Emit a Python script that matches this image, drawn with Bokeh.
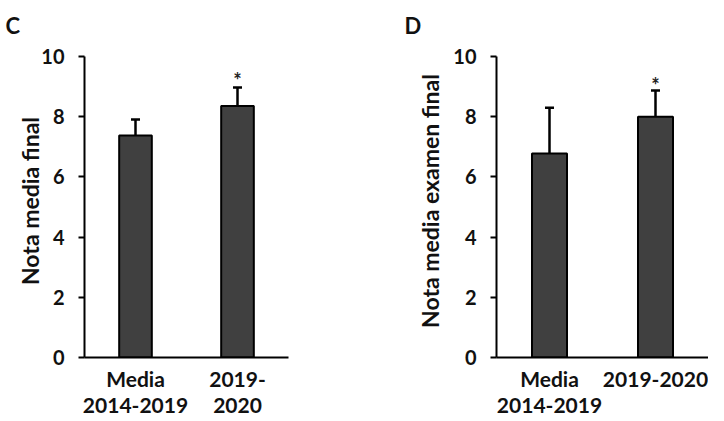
from bokeh.plotting import figure
from bokeh.layouts import row
from bokeh.models import (Range1d, FixedTicker, ColumnDataSource, Whisker, TeeHead)
from bokeh.core.properties import value
from bokeh.embed import file_html
from bokeh.resources import INLINE

# ---- data ----
groups_c = ["Media\n2014-2019", "2019-\n2020"]
means_c = [7.38, 8.36]
err_lo_c = [6.79, 7.75]
err_hi_c = [7.91, 8.97]
star_c = [None, 9.62]

groups_d = ["Media\n2014-2019", "2019-2020"]
means_d = [6.78, 8.0]
err_lo_d = [5.25, 7.11]
err_hi_d = [8.30, 8.87]
star_d = [None, 9.45]

yticks = [0, 2, 4, 6, 8, 10]
positions = [0.5, 1.5]

FONT = "Lato"
BAR = "#404040"
INK = "#111111"
H = 420


def panel(letter, ylabel, groups, means, lo, hi, stars, width, left, frame_w, bar_w,
          label_standoff, letter_dx):
    p = figure(width=width, height=H, output_backend="svg", toolbar_location=None,
               x_range=Range1d(0, 2), y_range=Range1d(0, 10.4),
               min_border_left=left, min_border_top=44, min_border_bottom=H - 357,
               min_border_right=width - left - frame_w)
    p.title.text = letter
    p.title.align = "left"
    p.title.offset = letter_dx
    p.title.text_font = FONT
    p.title.text_font_style = "bold"
    p.title.text_font_size = "22px"
    p.title.text_color = INK
    p.title.standoff = 12
    p.outline_line_color = None
    p.grid.visible = False
    p.background_fill_color = "white"
    p.border_fill_color = "white"

    src = ColumnDataSource(dict(x=positions, top=means, lo=lo, hi=hi))
    p.vbar(x="x", top="top", width=bar_w, bottom=0, source=src,
           fill_color=BAR, line_color="black", line_width=2)
    w = Whisker(base="x", lower="lo", upper="hi", source=src,
                line_color="black", line_width=2.5,
                upper_head=TeeHead(size=9, line_width=2.5, line_color="black"),
                lower_head=TeeHead(size=9, line_width=2.5, line_color="black"))
    p.add_layout(w)

    sx = [x for x, s in zip(positions, stars) if s is not None]
    sy = [s for s in stars if s is not None]
    p.text(x=sx, y=sy, text=["*"] * len(sx), text_font=value(FONT),
           text_font_size="20px", text_font_style="bold", text_color="#222222",
           text_align="center", text_baseline="top")

    # axes
    p.yaxis.ticker = FixedTicker(ticks=yticks)
    p.yaxis.bounds = (0, 10)
    p.yaxis.axis_line_width = 2
    p.yaxis.major_tick_line_width = 2
    p.yaxis.major_tick_out = 6
    p.yaxis.major_tick_in = 0
    p.yaxis.minor_tick_line_color = None
    p.yaxis.major_label_text_font = FONT
    p.yaxis.major_label_text_font_style = "bold"
    p.yaxis.major_label_text_font_size = "20px"
    p.yaxis.major_label_text_color = INK
    p.yaxis.major_label_standoff = 14
    p.yaxis.axis_label = ylabel
    p.yaxis.axis_label_text_font = FONT
    p.yaxis.axis_label_text_font_style = "bold"
    p.yaxis.axis_label_text_font_size = "23px"
    p.yaxis.axis_label_text_color = INK
    p.yaxis.axis_label_standoff = label_standoff

    p.xaxis.ticker = FixedTicker(ticks=positions)
    p.xaxis.major_label_overrides = {pos: g for pos, g in zip(positions, groups)}
    p.xaxis.axis_line_width = 2
    p.xaxis.major_tick_line_color = None
    p.xaxis.minor_tick_line_color = None
    p.xaxis.major_label_text_font = FONT
    p.xaxis.major_label_text_font_style = "bold"
    p.xaxis.major_label_text_font_size = "21px"
    p.xaxis.major_label_text_color = INK
    p.xaxis.major_label_text_line_height = 1.05
    p.xaxis.major_label_standoff = 2
    return p


pc = panel("C", "Nota media final", groups_c, means_c, err_lo_c, err_hi_c, star_c,
           width=352, left=84, frame_w=204, bar_w=0.32,
           label_standoff=-6, letter_dx=-79)
pd_ = panel("D", "Nota media examen final", groups_d, means_d, err_lo_d, err_hi_d, star_d,
            width=356, left=144, frame_w=212, bar_w=0.33,
            label_standoff=6, letter_dx=-92)

layout = row(pc, pd_, spacing=0)
open("out.html", "w").write(file_html(layout, INLINE))
